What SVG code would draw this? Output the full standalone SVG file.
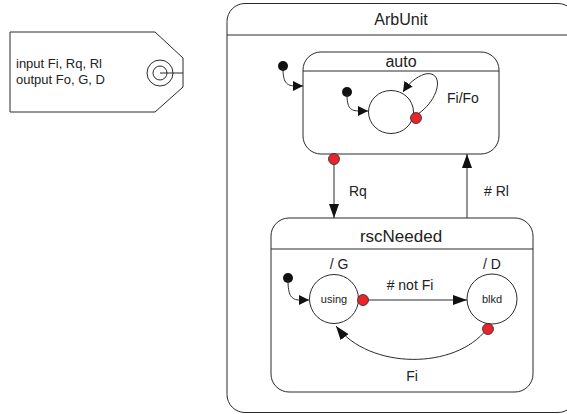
<svg xmlns="http://www.w3.org/2000/svg" width="567" height="414" viewBox="0 0 567 414">
<style>
.ln{fill:none;stroke:#2a2a2a;stroke-width:1}
.st{fill:#fff;stroke:#2a2a2a;stroke-width:1}
.t{font-family:"Liberation Sans",Arial,sans-serif;fill:#222}
.ini{fill:#111}
.red{fill:#e8252a;stroke:#2a2a2a;stroke-width:0.8}
</style>
<defs>
<marker id="ah" viewBox="0 0 10 10" refX="10" refY="5" markerWidth="10" markerHeight="10" markerUnits="userSpaceOnUse" orient="auto">
<path d="M0,0 L10,5 L0,10 z" fill="#111"/>
</marker>
<marker id="ahb" viewBox="0 0 14 10" refX="14" refY="5" markerWidth="14" markerHeight="10" markerUnits="userSpaceOnUse" orient="auto">
<path d="M0,0 L14,5 L0,10 z" fill="#111"/>
</marker>
</defs>
<rect width="567" height="414" fill="#fff"/>
<g id="tag">
<path class="st" d="M10,32 L155,32 L183,58 L183,87 L155,112 L10,112 Z"/>
<circle class="ln" cx="160" cy="73" r="13"/>
<circle class="ln" cx="160" cy="73" r="7"/>
<line class="ln" x1="160" y1="73" x2="183" y2="73"/>
<text class="t" x="16" y="68" font-size="13">input Fi, Rq, Rl</text>
<text class="t" x="16" y="84" font-size="13">output Fo, G, D</text>
</g>
<g id="ArbUnit">
<rect class="st" x="227" y="3.5" width="349" height="409" rx="18"/>
<line class="ln" x1="227" y1="35" x2="576" y2="35"/>
<text class="t" x="401" y="25" font-size="16" text-anchor="middle">ArbUnit</text>
</g>
<g id="auto">
<rect class="st" x="303" y="52" width="196" height="102" rx="18"/>
<line class="ln" x1="303" y1="71" x2="499" y2="71"/>
<text class="t" x="401" y="67" font-size="16" text-anchor="middle">auto</text>
</g>
<g id="autoInner">
<ellipse class="st" cx="391" cy="112" rx="22.5" ry="21.5"/>
</g>
<g id="rscNeeded">
<rect class="st" x="271" y="218" width="262" height="174" rx="18"/>
<line class="ln" x1="271" y1="249" x2="533" y2="249"/>
<text class="t" x="401" y="242" font-size="17" text-anchor="middle">rscNeeded</text>
</g>
<g id="using">
<circle class="st" cx="334" cy="299" r="24.5"/>
<text class="t" x="334" y="303" font-size="11" text-anchor="middle">using</text>
<text class="t" x="339" y="269" font-size="14" text-anchor="middle">/ G</text>
</g>
<g id="blkd">
<circle class="st" cx="492" cy="299" r="25"/>
<text class="t" x="492" y="303" font-size="11" text-anchor="middle">blkd</text>
<text class="t" x="492" y="269" font-size="14" text-anchor="middle">/ D</text>
</g>
<g id="connectors">
<circle class="ini" cx="283" cy="66" r="5"/>
<path class="ln" d="M283,68 C283,82 286,86 296,86 L303,86" marker-end="url(#ah)"/>
<circle class="ini" cx="347" cy="92" r="5"/>
<path class="ln" d="M347,94 C347,108 350,111 360,111 L368,111" marker-end="url(#ah)"/>
<path class="ln" d="M418,114 C441,98 444,70 425,74 C416,77 409,83 403,92" marker-end="url(#ah)"/>
<circle class="red" cx="416" cy="118" r="5.5"/>
<text class="t" x="447" y="103" font-size="14">Fi/Fo</text>
<line class="ln" x1="334" y1="160" x2="334" y2="218" marker-end="url(#ahb)"/>
<circle class="red" cx="334" cy="159" r="5.5"/>
<text class="t" x="349" y="196" font-size="14">Rq</text>
<line class="ln" x1="467" y1="218" x2="467" y2="154" marker-end="url(#ahb)"/>
<text class="t" x="484" y="196" font-size="14"># Rl</text>
<circle class="ini" cx="288" cy="278" r="5"/>
<path class="ln" d="M288,280 C288,295 291,300 300,300 L309,300" marker-end="url(#ah)"/>
<line class="ln" x1="364" y1="300" x2="467" y2="300" marker-end="url(#ahb)"/>
<circle class="red" cx="363" cy="300" r="5.5"/>
<text class="t" x="410" y="290" font-size="14" text-anchor="middle"># not Fi</text>
<path class="ln" d="M487,329 C455,370 370,370 336,326" marker-end="url(#ahb)"/>
<circle class="red" cx="488" cy="329" r="5.5"/>
<text class="t" x="412" y="381" font-size="14" text-anchor="middle">Fi</text>
</g>
</svg>
